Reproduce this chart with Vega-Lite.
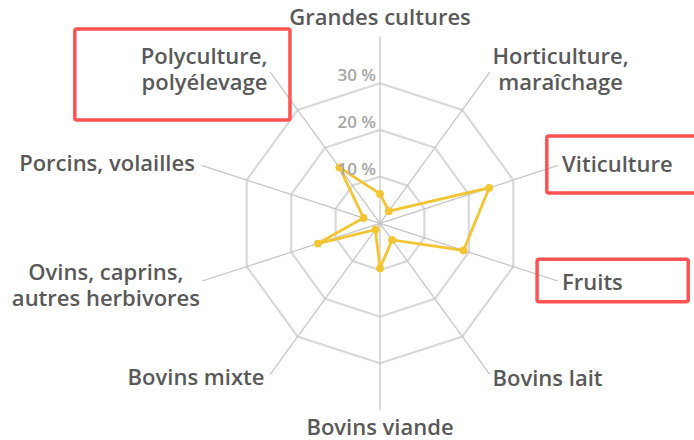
{
  "$schema": "https://vega.github.io/schema/vega-lite/v6.json",
  "width": 694,
  "height": 440,
  "autosize": {"type": "fit", "contains": "padding"},
  "padding": 0,
  "background": "white",
  "config": {"view": {"stroke": null}},
  "datasets": {
    "cats": [
      {"cat": "Grandes cultures", "label": "Grandes cultures", "i": 0, "v": 6.3},
      {"cat": "Horticulture, maraîchage", "label": "Horticulture,\nmaraîchage", "i": 1, "v": 3.2},
      {"cat": "Viticulture", "label": "Viticulture", "i": 2, "v": 24.6},
      {"cat": "Fruits", "label": "Fruits", "i": 3, "v": 18.8},
      {"cat": "Bovins lait", "label": "Bovins lait", "i": 4, "v": 4.4},
      {"cat": "Bovins viande", "label": "Bovins viande", "i": 5, "v": 9.6},
      {"cat": "Bovins mixte", "label": "Bovins mixte", "i": 6, "v": 1.7},
      {"cat": "Ovins, caprins, autres herbivores", "label": "Ovins, caprins,\nautres herbivores", "i": 7, "v": 14.0},
      {"cat": "Porcins, volailles", "label": "Porcins, volailles", "i": 8, "v": 3.7},
      {"cat": "Polyculture, polyélevage", "label": "Polyculture,\npolyélevage", "i": 9, "v": 14.8}
    ],
    "rings": [
      {"r": 10, "i": [0, 1, 2, 3, 4, 5, 6, 7, 8, 9]},
      {"r": 20, "i": [0, 1, 2, 3, 4, 5, 6, 7, 8, 9]},
      {"r": 30, "i": [0, 1, 2, 3, 4, 5, 6, 7, 8, 9]}
    ],
    "ticks": [
      {"t": "10 %", "r": 10, "c": 0},
      {"t": "20 %", "r": 20, "c": 0},
      {"t": "30 %", "r": 30, "c": 0}
    ],
    "boxes": [
      {"name": "Polyculture, polyélevage", "x1": -65.35, "x2": -19.28, "y1": 41.63, "y2": 22.14},
      {"name": "Viticulture", "x1": 35.72, "x2": 72, "y1": 18.71, "y2": 6.49},
      {"name": "Fruits", "x1": 33.64, "x2": 66.0, "y1": -7.71, "y2": -16.8}
    ]
  },
  "layer": [
    {
      "data": {"name": "rings"},
      "transform": [
        {"flatten": ["i"]},
        {"calculate": "datum.r * sin(datum.i * PI / 5)", "as": "x"},
        {"calculate": "datum.r * cos(datum.i * PI / 5)", "as": "y"}
      ],
      "mark": {"type": "line", "interpolate": "linear-closed", "stroke": "#D9D9D9", "strokeWidth": 2.2},
      "encoding": {
        "x": {"field": "x", "type": "quantitative", "scale": {"domain": [-81.37, 67.24], "nice": false, "zero": false}, "axis": null},
        "y": {"field": "y", "type": "quantitative", "scale": {"domain": [-46.4, 47.82], "nice": false, "zero": false}, "axis": null},
        "detail": {"field": "r", "type": "nominal"},
        "order": {"field": "i", "type": "quantitative"}
      }
    },
    {
      "data": {"name": "cats"},
      "transform": [
        {"calculate": "0", "as": "cx"},
        {"calculate": "40 * sin(datum.i * PI / 5)", "as": "sx"},
        {"calculate": "40 * cos(datum.i * PI / 5)", "as": "sy"}
      ],
      "mark": {"type": "rule", "stroke": "#C4C4C4", "strokeWidth": 1.2},
      "encoding": {
        "x": {"field": "cx", "type": "quantitative"},
        "y": {"field": "cx", "type": "quantitative"},
        "x2": {"field": "sx"},
        "y2": {"field": "sy"}
      }
    },
    {
      "data": {"name": "cats"},
      "transform": [
        {"calculate": "datum.v * sin(datum.i * PI / 5)", "as": "x"},
        {"calculate": "datum.v * cos(datum.i * PI / 5)", "as": "y"}
      ],
      "mark": {"type": "line", "interpolate": "linear-closed", "stroke": "#F5C431", "strokeWidth": 2.8},
      "encoding": {
        "x": {"field": "x", "type": "quantitative"},
        "y": {"field": "y", "type": "quantitative"},
        "order": {"field": "i", "type": "quantitative"}
      }
    },
    {
      "data": {"name": "cats"},
      "transform": [
        {"calculate": "datum.v * sin(datum.i * PI / 5)", "as": "x"},
        {"calculate": "datum.v * cos(datum.i * PI / 5)", "as": "y"}
      ],
      "mark": {"type": "point", "shape": "circle", "filled": true, "size": 60, "color": "#F5C431", "opacity": 1},
      "encoding": {
        "x": {"field": "x", "type": "quantitative"},
        "y": {"field": "y", "type": "quantitative"}
      }
    },
    {
      "data": {"name": "ticks"},
      "mark": {"type": "text", "align": "right", "baseline": "middle", "dx": -4, "dy": -7, "fontSize": 17, "fontWeight": 600, "font": "Open Sans", "color": "#A6A6A6"},
      "encoding": {
        "x": {"field": "c", "type": "quantitative"},
        "y": {"field": "r", "type": "quantitative"},
        "text": {"field": "t", "type": "nominal"}
      }
    },
    {
      "data": {"name": "cats"},
      "transform": [
        {"calculate": "41 * sin(datum.i * PI / 5)", "as": "lx"},
        {"calculate": "41 * cos(datum.i * PI / 5)", "as": "ly"}
      ],
      "encoding": {
        "x": {"field": "lx", "type": "quantitative"},
        "y": {"field": "ly", "type": "quantitative"},
        "text": {"field": "label", "type": "nominal"}
      },
      "layer": [
        {
          "transform": [{"filter": "datum.i == 0"}],
          "mark": {"type": "text", "align": "center", "baseline": "middle", "dy": -14, "fontSize": 22, "fontWeight": 600, "font": "Open Sans", "color": "#595959"}
        },
        {
          "transform": [{"filter": "datum.i == 5"}],
          "mark": {"type": "text", "align": "center", "baseline": "middle", "dy": 13, "fontSize": 22, "fontWeight": 600, "font": "Open Sans", "color": "#595959"}
        },
        {
          "transform": [{"filter": "datum.i >= 2 && datum.i <= 4"}],
          "mark": {"type": "text", "align": "left", "baseline": "middle", "dx": 0, "dy": 1, "fontSize": 22, "fontWeight": 600, "font": "Open Sans", "color": "#595959"}
        },
        {
          "transform": [{"filter": "datum.i == 1"}],
          "mark": {"type": "text", "align": "center", "baseline": "middle", "dx": 68, "dy": -11, "lineBreak": "\n", "lineHeight": 26, "fontSize": 22, "fontWeight": 600, "font": "Open Sans", "color": "#595959"}
        },
        {
          "transform": [{"filter": "datum.i == 6 || datum.i == 8"}],
          "mark": {"type": "text", "align": "right", "baseline": "middle", "dx": -3, "dy": 0, "fontSize": 22, "fontWeight": 600, "font": "Open Sans", "color": "#595959"}
        },
        {
          "transform": [{"filter": "datum.i == 7"}],
          "mark": {"type": "text", "align": "center", "baseline": "middle", "dx": -92, "dy": -9, "lineBreak": "\n", "lineHeight": 26, "fontSize": 22, "fontWeight": 600, "font": "Open Sans", "color": "#595959"}
        },
        {
          "transform": [{"filter": "datum.i == 9"}],
          "mark": {"type": "text", "align": "right", "baseline": "middle", "dx": 0, "dy": -11, "lineBreak": "\n", "lineHeight": 26, "fontSize": 22, "fontWeight": 600, "font": "Open Sans", "color": "#595959"}
        }
      ]
    },
    {
      "data": {"name": "boxes"},
      "mark": {"type": "rect", "filled": false, "stroke": "#FF5252", "strokeWidth": 3.5, "cornerRadius": 2, "clip": true},
      "encoding": {
        "x": {"field": "x1", "type": "quantitative"},
        "x2": {"field": "x2"},
        "y": {"field": "y1", "type": "quantitative"},
        "y2": {"field": "y2"}
      }
    }
  ]
}
